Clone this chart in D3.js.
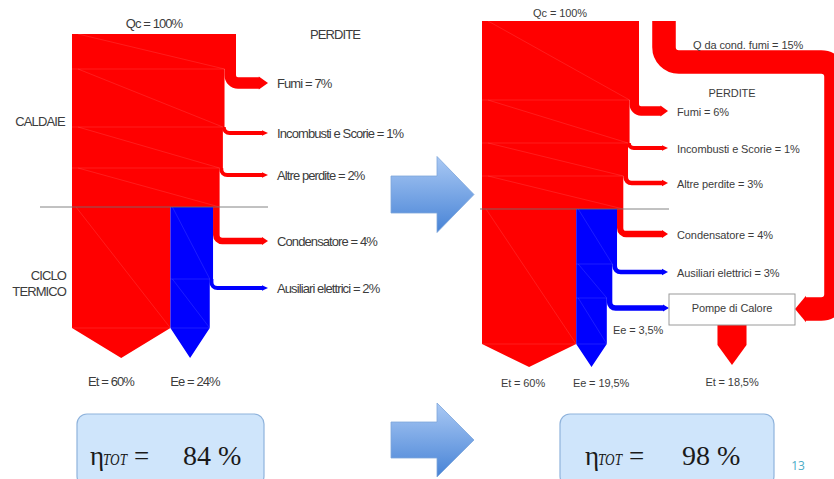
<!DOCTYPE html>
<html>
<head>
<meta charset="utf-8">
<script src="https://cdn.jsdelivr.net/npm/d3@7/dist/d3.min.js"></script>
<style>
  html, body { margin: 0; padding: 0; background: #fff; }
  svg { display: block; }
</style>
</head>
<body>
<svg id="chart" width="834" height="479"></svg>
<script>
// Energy balance, in percent of the fuel heat input Qc

// Plant without heat recovery
const leftInput = [{ name: "Qc", value: 100 }];
const leftBoilerLosses = [
  { name: "Fumi", value: 7 },
  { name: "Incombusti e Scorie", value: 1 },
  { name: "Altre perdite", value: 2 }
];
const leftCycleLosses = [{ name: "Condensatore", value: 4 }];
const leftElectricLosses = [{ name: "Ausiliari elettrici", value: 2 }];
const leftOutputs = [{ name: "Et", value: 60 }, { name: "Ee", value: 24 }];

// Plant with flue-gas condensation and heat pumps
const rightInput = [{ name: "Qc", value: 100 }];
const rightRecovered = [{ name: "Q da cond. fumi", value: 15 }];
const rightBoilerLosses = [
  { name: "Fumi", value: 6 },
  { name: "Incombusti e Scorie", value: 1 },
  { name: "Altre perdite", value: 3 }
];
const rightCycleLosses = [{ name: "Condensatore", value: 4 }];
const rightElectricLosses = [{ name: "Ausiliari elettrici", value: 3 }];
const rightHeatPumpInput = [{ name: "Ee", value: 3.5 }];
const rightOutputs = [{ name: "Et", value: 60 }, { name: "Ee", value: 19.5 }];
const rightHeatPumpOutput = [{ name: "Et", value: 18.5 }];

const efficiencies = [84, 98];
const pageNumber = "13";

// ---------------------------------------------------------------------------
const RED = "#ff0000", BLUE = "#0000ff", TEXT = "#3c3c3c";
const fmt = v => String(v).replace(".", ",") + "%";

const svg = d3.select("#chart");
const defs = svg.append("defs");
const grad = defs.append("linearGradient").attr("id", "arrowGrad")
  .attr("x1", 0).attr("y1", 0).attr("x2", 0).attr("y2", 1);
grad.append("stop").attr("offset", "0%").attr("stop-color", "#aac9f4");
grad.append("stop").attr("offset", "100%").attr("stop-color", "#4783d6");

// A loss leaving the side of a flow: down, round the corner, out to an arrow tip
function lossBranch(g, s) {
  const w = s.xR - s.xL;
  const sw = Math.max(w, 4);
  const xc = (s.xL + s.xR) / 2;
  const r = Math.min(s.hy - s.y0, Math.max(sw / 2 + 2, 6));
  const headLen = Math.max(6, sw * 0.8);
  const p = d3.path();
  p.moveTo(xc, s.y0);
  p.arcTo(xc, s.hy, xc + r, s.hy, r);
  p.lineTo(s.tipX - headLen + 0.5, s.hy);
  g.append("path").attr("d", p.toString())
    .attr("fill", "none").attr("stroke", s.color).attr("stroke-width", sw);
  const hw = sw / 2 + 0.8;
  g.append("path")
    .attr("d", `M${s.tipX - headLen},${s.hy - hw}L${s.tipX},${s.hy}L${s.tipX - headLen},${s.hy + hw}Z`)
    .attr("fill", s.color);
}

function label(g, x, y, txt, size, spacing, anchor) {
  return g.append("text").attr("x", x).attr("y", y)
    .attr("font-family", "'Liberation Sans', Arial, sans-serif")
    .attr("font-size", size).attr("letter-spacing", spacing)
    .attr("fill", TEXT).attr("text-anchor", anchor || "start").text(txt);
}

function drawDiagram(g, d) {
  const x = d.x;
  const w = v => x(v) - x(0);
  const x0 = x(0), xTop = x(d.input[0].value);
  const strips = [];
  const seams = [];

  // boiler: losses peel off the right side
  let edge = xTop;
  const redPts = [[x0, d.top], [xTop, d.top]];
  let prevY = d.top;
  d.boiler.forEach((l, i) => {
    const [y0, hy] = d.boilerY[i];
    redPts.push([edge, y0], [edge - w(l.value), y0]);
    seams.push([x0 + 6, prevY, edge - w(l.value), y0], [x0, y0, edge - w(l.value), y0]);
    strips.push({ l, xL: edge - w(l.value), xR: edge, y0, hy, color: RED, tipX: d.tipX, label: true });
    edge -= w(l.value);
    prevY = y0;
  });
  seams.push([x0 + 6, prevY, edge, d.divideY]);

  // thermal cycle: useful heat, gross electricity, condenser
  const etR = x0 + w(d.outputs[0].value);
  const eeGross = d.outputs[1].value + d3.sum(d.elec, e => e.value);
  const eeR = etR + w(eeGross);
  let cEdge = edge;
  d.cycle.forEach((l, i) => {
    const [y0, hy] = d.cycleY[i];
    strips.push({ l, xL: cEdge - w(l.value), xR: cEdge, y0, hy, color: RED, tipX: d.tipX, label: true });
    cEdge -= w(l.value);
  });
  redPts.push([edge, d.divideY], [etR, d.divideY], [etR, d.bottom], [(x0 + etR) / 2, d.tipY], [x0, d.bottom]);
  seams.push([x0 + 4, d.divideY, etR, d.bottom], [x0, d.bottom, etR, d.bottom]);

  // electricity: auxiliaries (and heat pumps) peel off
  let bEdge = eeR;
  const bluePts = [[etR, d.divideY], [eeR, d.divideY]];
  let bPrev = d.divideY;
  d.elec.forEach((l, i) => {
    const [y0, hy] = d.elecY[i];
    bluePts.push([bEdge, y0], [bEdge - w(l.value), y0]);
    seams.push([etR + 2, bPrev, bEdge - w(l.value), y0], [etR, y0, bEdge - w(l.value), y0]);
    strips.push({ l, xL: bEdge - w(l.value), xR: bEdge, y0, hy, color: BLUE,
                  tipX: d.elecTipX[i], label: d.elecLabel[i] });
    bEdge -= w(l.value);
    bPrev = y0;
  });
  bluePts.push([bEdge, d.bottom], [(etR + bEdge) / 2, d.tipY], [etR, d.bottom]);
  seams.push([etR + 2, bPrev, bEdge, d.bottom], [etR, d.bottom, bEdge, d.bottom]);

  strips.forEach(s => lossBranch(g, s));
  const line = d3.line();
  g.append("path").attr("d", line(redPts) + "Z").attr("fill", RED);
  g.append("path").attr("d", line(bluePts) + "Z").attr("fill", BLUE);

  g.append("g").selectAll("line").data(seams).join("line")
    .attr("x1", s => s[0]).attr("y1", s => s[1]).attr("x2", s => s[2]).attr("y2", s => s[3])
    .attr("stroke", "#fff").attr("stroke-opacity", 0.14).attr("stroke-width", 0.8);

  // section divider between boiler and cycle
  g.append("line").attr("x1", d.line[0]).attr("x2", d.line[1])
    .attr("y1", d.divideY).attr("y2", d.divideY)
    .attr("stroke", "#6e6e6e").attr("stroke-opacity", 0.85).attr("stroke-width", 1);

  // labels
  strips.filter(s => s.label).forEach(s =>
    label(g, d.labelX, s.hy + 5, `${s.l.name} = ${fmt(s.l.value)}`, d.font, d.spacing));
  label(g, d.inputLabel[0], d.inputLabel[1], `${d.input[0].name} = ${fmt(d.input[0].value)}`, d.font, d.spacing, "middle");
  d.outputs.forEach((o, i) =>
    label(g, d.outLabelX[i], d.outLabelY, `${o.name} = ${fmt(o.value)}`, d.font, d.spacing, "middle"));
  label(g, d.lossTitle[0], d.lossTitle[1], "PERDITE", d.font, d.spacing, "middle");

  return { x, w, bEdge };
}

// ---------------- left diagram ----------------
const gl = svg.append("g");
drawDiagram(gl, {
  x: d3.scaleLinear().domain([0, 100]).range([72, 236]),
  input: leftInput, boiler: leftBoilerLosses, cycle: leftCycleLosses,
  elec: leftElectricLosses, outputs: leftOutputs,
  top: 34, divideY: 207, bottom: 328, tipY: 358,
  boilerY: [[69, 83], [127, 133], [168, 175]],
  cycleY: [[207, 241]],
  elecY: [[279, 288]], elecTipX: [268], elecLabel: [true],
  tipX: 268, labelX: 277, line: [40, 268],
  font: 13, spacing: -0.9,
  outLabelX: [111, 195], outLabelY: 386,
  inputLabel: [154, 28], lossTitle: [335, 39]
});
label(gl, 40, 126, "CALDAIE", 13, -0.9, "middle");
label(gl, 66, 280, "CICLO", 13, -0.9, "end");
label(gl, 66, 296, "TERMICO", 13, -0.9, "end");

// ---------------- right diagram ----------------
const gr = svg.append("g");
const rightX = d3.scaleLinear().domain([0, 100]).range([482, 639]);
const rw = v => rightX(v) - rightX(0);

// heat recovered from flue-gas condensation, routed to the heat pumps
const recW = rw(rightRecovered[0].value);
const box = { x: 669, y: 294, w: 126, h: 31 };
const rec = d3.path();
const R = recW / 2 + 3;
rec.moveTo(664, 21);
rec.arcTo(664, 62, 845, 62, R);
rec.arcTo(836, 62, 836, 309, R);
rec.arcTo(836, 309, box.x + box.w, 309, R);
rec.lineTo(box.x + box.w + 10, 309);
gr.append("path").attr("d", rec.toString()).attr("fill", "none")
  .attr("stroke", RED).attr("stroke-width", recW);
gr.append("path")
  .attr("d", `M${box.x + box.w + 11},${309 - recW / 2 - 1.5}L${box.x + box.w},309L${box.x + box.w + 11},${309 + recW / 2 + 1.5}Z`)
  .attr("fill", RED);
label(gr, 693, 49, `${rightRecovered[0].name} = ${fmt(rightRecovered[0].value)}`, 11, -0.1);

drawDiagram(gr, {
  x: rightX,
  input: rightInput, boiler: rightBoilerLosses, cycle: rightCycleLosses,
  elec: [...rightElectricLosses, ...rightHeatPumpInput], outputs: rightOutputs,
  top: 21, divideY: 209, bottom: 344, tipY: 367,
  boilerY: [[100, 111], [143, 148], [176, 183]],
  cycleY: [[209, 234]],
  elecY: [[264, 272], [298, 308]], elecTipX: [668, box.x], elecLabel: [true, false],
  tipX: 668, labelX: 677, line: [480, 669],
  font: 11, spacing: -0.1,
  outLabelX: [523, 601], outLabelY: 387,
  inputLabel: [560, 17], lossTitle: [732, 97]
});
label(gr, 613, 334, `${rightHeatPumpInput[0].name} = ${fmt(rightHeatPumpInput[0].value)}`, 11, -0.1);

// heat pump output
const hpW = rw(rightHeatPumpOutput[0].value);
const hpC = box.x + box.w / 2;
gr.append("path")
  .attr("d", d3.line()([[hpC - hpW / 2, box.y + box.h], [hpC + hpW / 2, box.y + box.h],
                        [hpC + hpW / 2, 345], [hpC, 365], [hpC - hpW / 2, 345]]) + "Z")
  .attr("fill", RED);
gr.append("rect").attr("x", box.x).attr("y", box.y).attr("width", box.w).attr("height", box.h)
  .attr("fill", "#fff").attr("stroke", "#9a9a9a").attr("stroke-width", 1);
label(gr, hpC, 312, "Pompe di Calore", 11, -0.1, "middle");
label(gr, 732, 386, `${rightHeatPumpOutput[0].name} = ${fmt(rightHeatPumpOutput[0].value)}`, 11, -0.1, "middle");

// ---------------- block arrows ----------------
function blockArrow(x0, xs, xt, yc, shaftH, headH) {
  const pts = [[x0, yc - shaftH / 2], [xs, yc - shaftH / 2], [xs, yc - headH / 2], [xt, yc],
               [xs, yc + headH / 2], [xs, yc + shaftH / 2], [x0, yc + shaftH / 2]];
  svg.append("path").attr("d", d3.line()(pts) + "Z")
    .attr("fill", "url(#arrowGrad)").attr("stroke", "#7ea6db").attr("stroke-width", 0.8);
}
blockArrow(391, 437, 474, 194.5, 37, 76);
blockArrow(391, 437, 474, 440, 36, 74);

// ---------------- overall efficiency ----------------
const effBoxes = [
  { x: 77, w: 187, eta: 90, num: 183 },
  { x: 560, w: 214, eta: 585, num: 682 }
];
const serif = "'Liberation Serif', 'DejaVu Serif', serif";
efficiencies.forEach((e, i) => {
  const b = effBoxes[i];
  svg.append("rect").attr("x", b.x).attr("y", 414).attr("width", b.w).attr("height", 72)
    .attr("rx", 10).attr("fill", "#cfe5fb").attr("stroke", "#8fb3dc").attr("stroke-width", 1.2);
  const txt = (x, size, s) => svg.append("text").attr("x", x).attr("y", 465)
    .attr("font-family", serif).attr("font-size", size).attr("fill", "#1a1a1a").text(s);
  txt(b.eta, 27, "η");
  txt(b.eta + 13, 16, "TOT").attr("font-style", "italic")
    .attr("textLength", 24).attr("lengthAdjust", "spacingAndGlyphs");
  txt(b.eta + 44, 27, "=");
  txt(b.num, 28, `${e} %`);
});

svg.append("text").attr("x", 798).attr("y", 470).attr("text-anchor", "middle")
  .attr("font-family", "'Open Sans', 'Liberation Sans', sans-serif").attr("font-size", 12)
  .attr("fill", "#4bacc6").text(pageNumber);
</script>
</body>
</html>
